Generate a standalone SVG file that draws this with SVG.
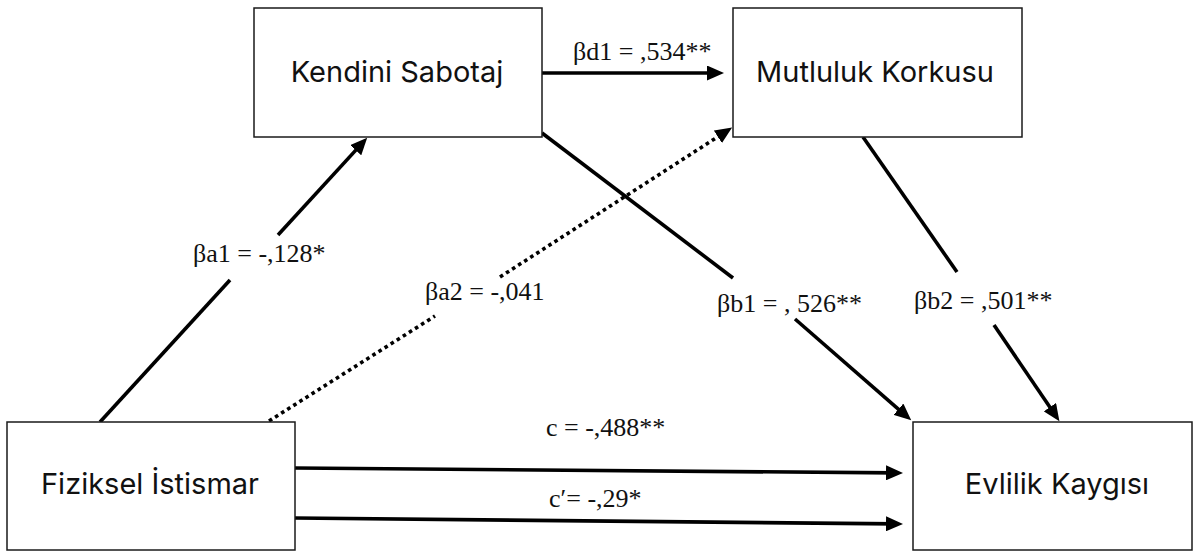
<svg xmlns="http://www.w3.org/2000/svg" width="1198" height="551" viewBox="0 0 1198 551">
  <defs>
    <style>
      .box { fill: #ffffff; stroke: #1a1a1a; stroke-width: 1.5; }
      .name { font-family: Inter, "Noto Sans", "Liberation Sans", sans-serif; font-size: 29px; fill: #111; text-anchor: middle; }
      .coef { font-family: "Liberation Serif", "Times New Roman", serif; font-size: 26px; fill: #111; }
      .path { stroke: #000; stroke-width: 3.6; fill: none; }
      .dot { stroke: #000; stroke-width: 3.6; fill: none; stroke-dasharray: 3.6 3.6; }
    </style>
    <marker id="head" markerUnits="userSpaceOnUse" markerWidth="17" markerHeight="15" refX="9" refY="7.5" orient="auto">
      <path d="M0,0 L17,7.5 L0,15 z" fill="#000"/>
    </marker>
  </defs>
  <rect width="1198" height="551" fill="#ffffff"/>

  <!-- connectors -->
  <g id="connectors">
    <!-- Kendini Sabotaj -> Mutluluk Korkusu -->
    <line class="path" x1="542" y1="73" x2="716" y2="73" marker-end="url(#head)"/>
    <!-- Fiziksel Istismar -> Kendini Sabotaj (split around label) -->
    <line class="path" x1="100" y1="422" x2="230" y2="280"/>
    <line class="path" x1="278" y1="235" x2="361.8" y2="143.6" marker-end="url(#head)"/>
    <!-- Fiziksel Istismar -> Mutluluk Korkusu (dotted, non-significant) -->
    <line class="dot" x1="269" y1="421" x2="435" y2="316"/>
    <line class="dot" x1="500" y1="277" x2="725.4" y2="131.9" marker-end="url(#head)"/>
    <!-- Kendini Sabotaj -> Evlilik Kaygisi -->
    <line class="path" x1="542" y1="133" x2="733" y2="278"/>
    <line class="path" x1="795" y1="319" x2="905.2" y2="415.1" marker-end="url(#head)"/>
    <!-- Mutluluk Korkusu -> Evlilik Kaygisi -->
    <line class="path" x1="863" y1="137" x2="957" y2="272"/>
    <line class="path" x1="994" y1="325" x2="1054.9" y2="414.6" marker-end="url(#head)"/>
    <!-- total and direct effects -->
    <line class="path" x1="295" y1="468" x2="895" y2="472.9" marker-end="url(#head)"/>
    <line class="path" x1="295" y1="518" x2="895" y2="523.9" marker-end="url(#head)"/>
  </g>

  <!-- coefficient labels -->
  <g id="labels">
    <text class="coef" x="573" y="60">βd1 = ,534**</text>
    <text class="coef" x="193" y="262">βa1 = -,128*</text>
    <text class="coef" x="425" y="300">βa2 = -,041</text>
    <text class="coef" x="717" y="312">βb1 = , 526**</text>
    <text class="coef" x="914" y="309">βb2 = ,501**</text>
    <text class="coef" x="546" y="436">c = -,488**</text>
    <text class="coef" x="549" y="507">c′= -,29*</text>
  </g>

  <g id="kendini-sabotaj">
    <rect class="box" x="254" y="8" width="288" height="129"/>
    <text class="name" x="397" y="82">Kendini Sabotaj</text>
  </g>
  <g id="mutluluk-korkusu">
    <rect class="box" x="733" y="8" width="289" height="129"/>
    <text class="name" x="875" y="82">Mutluluk Korkusu</text>
  </g>
  <g id="fiziksel-istismar">
    <rect class="box" x="7" y="422" width="288" height="128"/>
    <text class="name" x="150" y="494">Fiziksel İstismar</text>
  </g>
  <g id="evlilik-kaygisi">
    <rect class="box" x="913" y="422" width="279" height="128"/>
    <text class="name" x="1057" y="494">Evlilik Kaygısı</text>
  </g>
</svg>
